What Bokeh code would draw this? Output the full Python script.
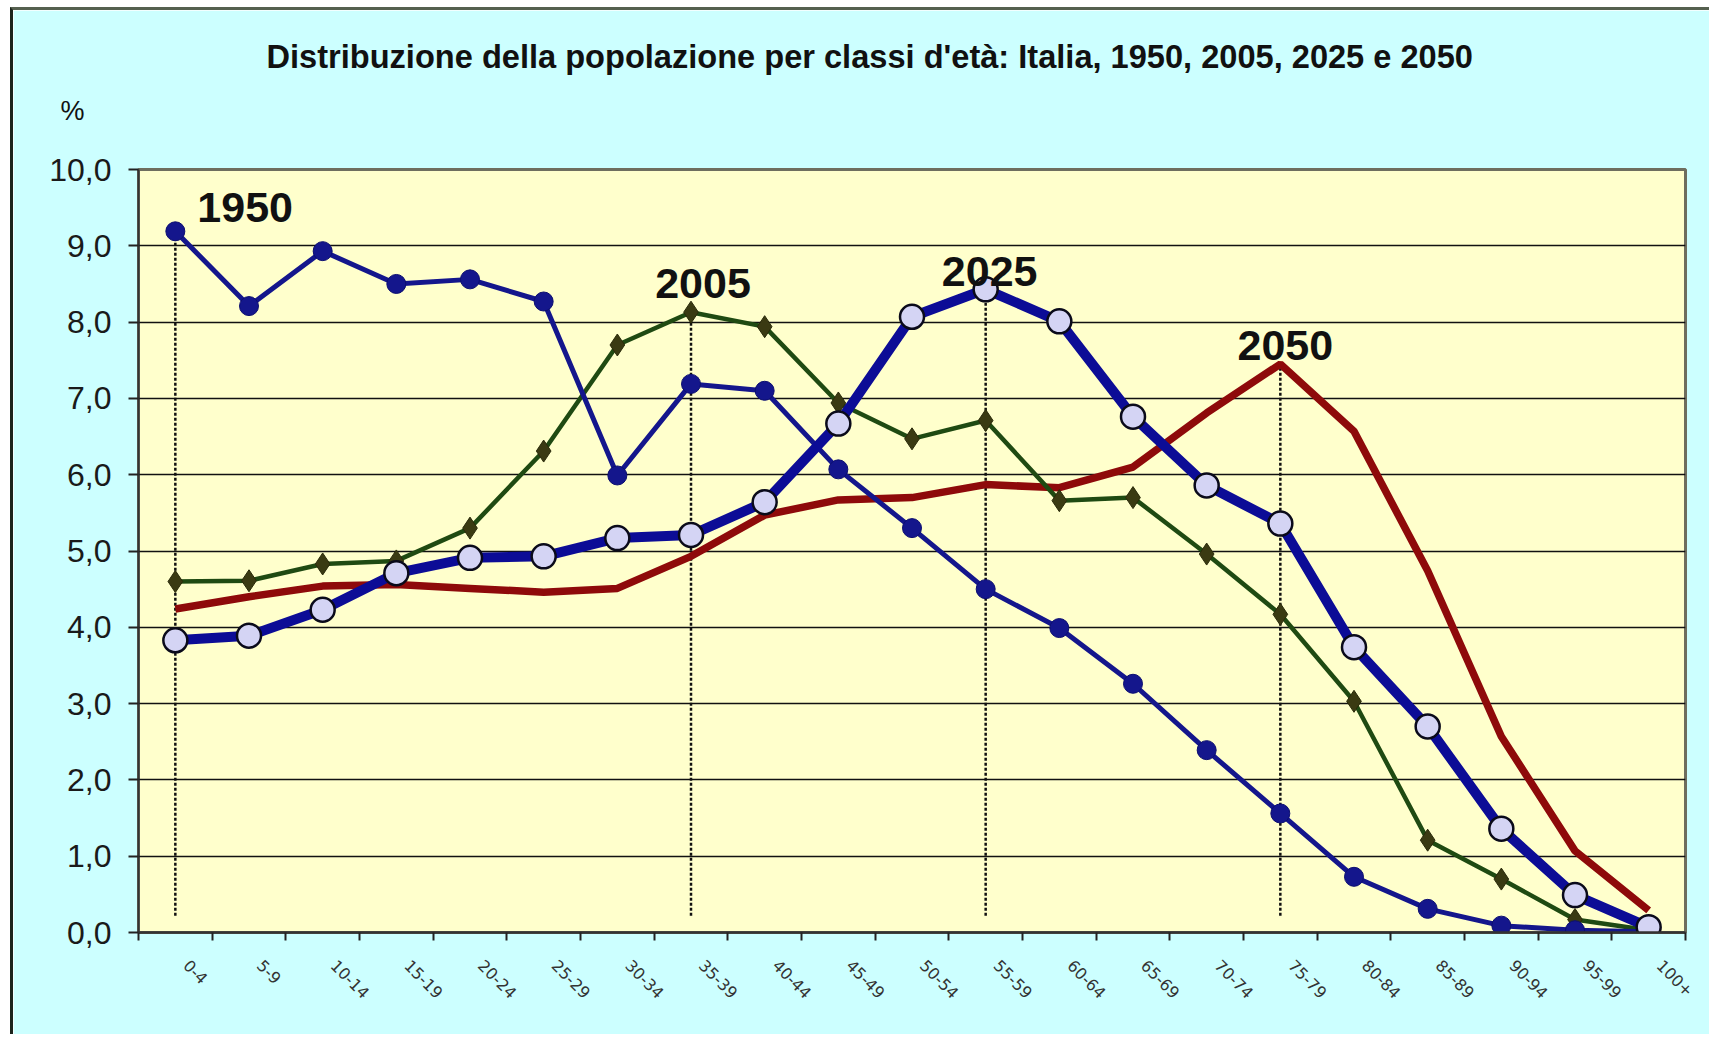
import math
from bokeh.plotting import figure
from bokeh.models import FixedTicker, Range1d, Title
from bokeh.embed import file_html
from bokeh.resources import INLINE
from bokeh.core.properties import value

categories = ["0-4", "5-9", "10-14", "15-19", "20-24", "25-29", "30-34", "35-39",
              "40-44", "45-49", "50-54", "55-59", "60-64", "65-69", "70-74", "75-79",
              "80-84", "85-89", "90-94", "95-99", "100+"]

y1950 = [9.19, 8.21, 8.93, 8.50, 8.56, 8.27, 5.99, 7.19, 7.10, 6.07, 5.30, 4.50,
         3.99, 3.26, 2.39, 1.56, 0.73, 0.31, 0.09, 0.03, 0.01]
y2005 = [4.60, 4.61, 4.83, 4.87, 5.30, 6.31, 7.70, 8.13, 7.94, 6.94, 6.47, 6.71,
         5.66, 5.70, 4.96, 4.17, 3.03, 1.21, 0.70, 0.17, 0.03]
y2025 = [3.83, 3.89, 4.23, 4.71, 4.91, 4.93, 5.17, 5.21, 5.64, 6.67, 8.07, 8.43,
         8.01, 6.76, 5.86, 5.36, 3.74, 2.70, 1.36, 0.49, 0.07]
y2050 = [4.24, 4.40, 4.54, 4.56, 4.51, 4.46, 4.51, 4.93, 5.47, 5.67, 5.70, 5.87,
         5.83, 6.10, 6.81, 7.45, 6.57, 4.74, 2.57, 1.07, 0.29]

year_labels = ["1950", "2005", "2025", "2050"]
year_peak_cats = ["0-4", "35-39", "55-59", "75-79"]
ytick_values = list(range(0, 11))
ytick_labels = [f"{v},0" for v in ytick_values]

title_text = "Distribuzione della popolazione per classi d'età: Italia, 1950, 2005, 2025 e 2050"
unit_text = "%"

xi = list(range(len(categories)))
FONT = "Liberation Sans"
LABEL_SHIFT = 0.15  # visual shift of rotated category labels

p = figure(width=1699, height=1027, output_backend="svg", toolbar_location=None,
           x_range=Range1d(-0.5, len(categories) - 0.5), y_range=Range1d(0, 10),
           min_border_left=125, min_border_right=27, min_border_top=159, min_border_bottom=105)
p.styles = {"margin-left": "10px", "margin-top": "7px",
            "border-left": "3px solid #1c241c", "border-top": "3px solid #55604f"}

p.background_fill_color = "#ffffcc"
p.border_fill_color = "#ccffff"
p.outline_line_color = "#6e6e5e"
p.outline_line_width = 3

# main title (outermost) and unit label (closest to the frame)
p.title.text = title_text
p.title.align = "left"
p.title.offset = 128
p.title.standoff = -50
p.title.text_font = FONT
p.title.text_font_size = "32.6px"
p.title.text_font_style = "bold"
p.title.text_color = "#111111"

unit_title = Title(text=unit_text, align="left", offset=-78, standoff=88,
                   text_font=FONT, text_font_size="27px", text_font_style="normal",
                   text_color="#111111")
p.add_layout(unit_title, "above")

# grid
p.xgrid.grid_line_color = None
p.ygrid.grid_line_color = "#111111"
p.ygrid.grid_line_width = 1.6
p.ygrid.ticker = FixedTicker(ticks=ytick_values)

# y axis
p.yaxis.ticker = FixedTicker(ticks=ytick_values)
p.yaxis.major_label_overrides = {v: l for v, l in zip(ytick_values, ytick_labels)}
p.yaxis.major_label_text_font = FONT
p.yaxis.major_label_text_font_size = "32px"
p.yaxis.major_label_text_color = "#1a1a1a"
p.yaxis.major_tick_out = 10
p.yaxis.major_tick_in = 0
p.yaxis.major_tick_line_color = "#222222"
p.yaxis.major_tick_line_width = 2
p.yaxis.minor_tick_line_color = None
p.yaxis.axis_line_color = "#333333"
p.yaxis.axis_line_width = 2
p.yaxis.major_label_standoff = 17

# x axis: labels between boundary ticks
label_pos = [i + LABEL_SHIFT for i in xi]
p.xaxis.ticker = FixedTicker(ticks=label_pos, minor_ticks=[i - 0.5 for i in range(len(categories) + 1)])
p.xaxis.major_label_overrides = {pos: c for pos, c in zip(label_pos, categories)}
p.xaxis.major_label_orientation = -math.pi / 4
p.xaxis.major_label_text_font = "DejaVu Sans"
p.xaxis.major_label_text_font_size = "16px"
p.xaxis.major_label_text_color = "#333333"
p.xaxis.major_label_standoff = 22
p.xaxis.major_tick_out = 0
p.xaxis.major_tick_in = 0
p.xaxis.minor_tick_out = 8
p.xaxis.minor_tick_in = 0
p.xaxis.minor_tick_line_color = "#222222"
p.xaxis.minor_tick_line_width = 2
p.xaxis.axis_line_color = "#333333"
p.xaxis.axis_line_width = 2.5

# dashed vertical markers at the peaks
series_by_label = {"1950": y1950, "2005": y2005, "2025": y2025, "2050": y2050}
peak_x = [categories.index(c) for c in year_peak_cats]
peak_y = [series_by_label[l][categories.index(c)] for l, c in zip(year_labels, year_peak_cats)]
p.segment(x0=peak_x, y0=[0.22] * len(peak_x), x1=peak_x, y1=peak_y,
          line_color="#111111", line_width=2.5, line_dash="3 2")

# series
p.line(xi, y2050, line_color="#8e0a0a", line_width=7.5)

p.line(xi, y2005, line_color="#1f4a12", line_width=4.5)
p.scatter(xi, y2005, marker="diamond", size=22, fill_color="#3a3a12", line_color="#2a2a0a", line_width=1)

p.line(xi, y1950, line_color="#14168c", line_width=5)
p.scatter(xi, y1950, marker="circle", size=19, fill_color="#14168c", line_color="#0c0e70", line_width=1)

p.line(xi, y2025, line_color="#0c0c96", line_width=10)
p.scatter(xi, y2025, marker="circle", size=24, fill_color="#d4d4f4", line_color="#0a0a1a", line_width=2.5)

# year annotations
x_offs = [22, 12, 4, 5]
y_offs = [-24, -29, -18, -19]
aligns = ["left", "center", "center", "center"]
for lab, px, py, xo, yo, al in zip(year_labels, peak_x, peak_y, x_offs, y_offs, aligns):
    p.text(x=[px], y=[py], text=[lab], x_offset=xo, y_offset=yo,
           text_align=al, text_baseline="alphabetic",
           text_font=value(FONT), text_font_size="43px", text_font_style="bold",
           text_color="#111111")

open("out.html", "w").write(file_html(p, INLINE))
